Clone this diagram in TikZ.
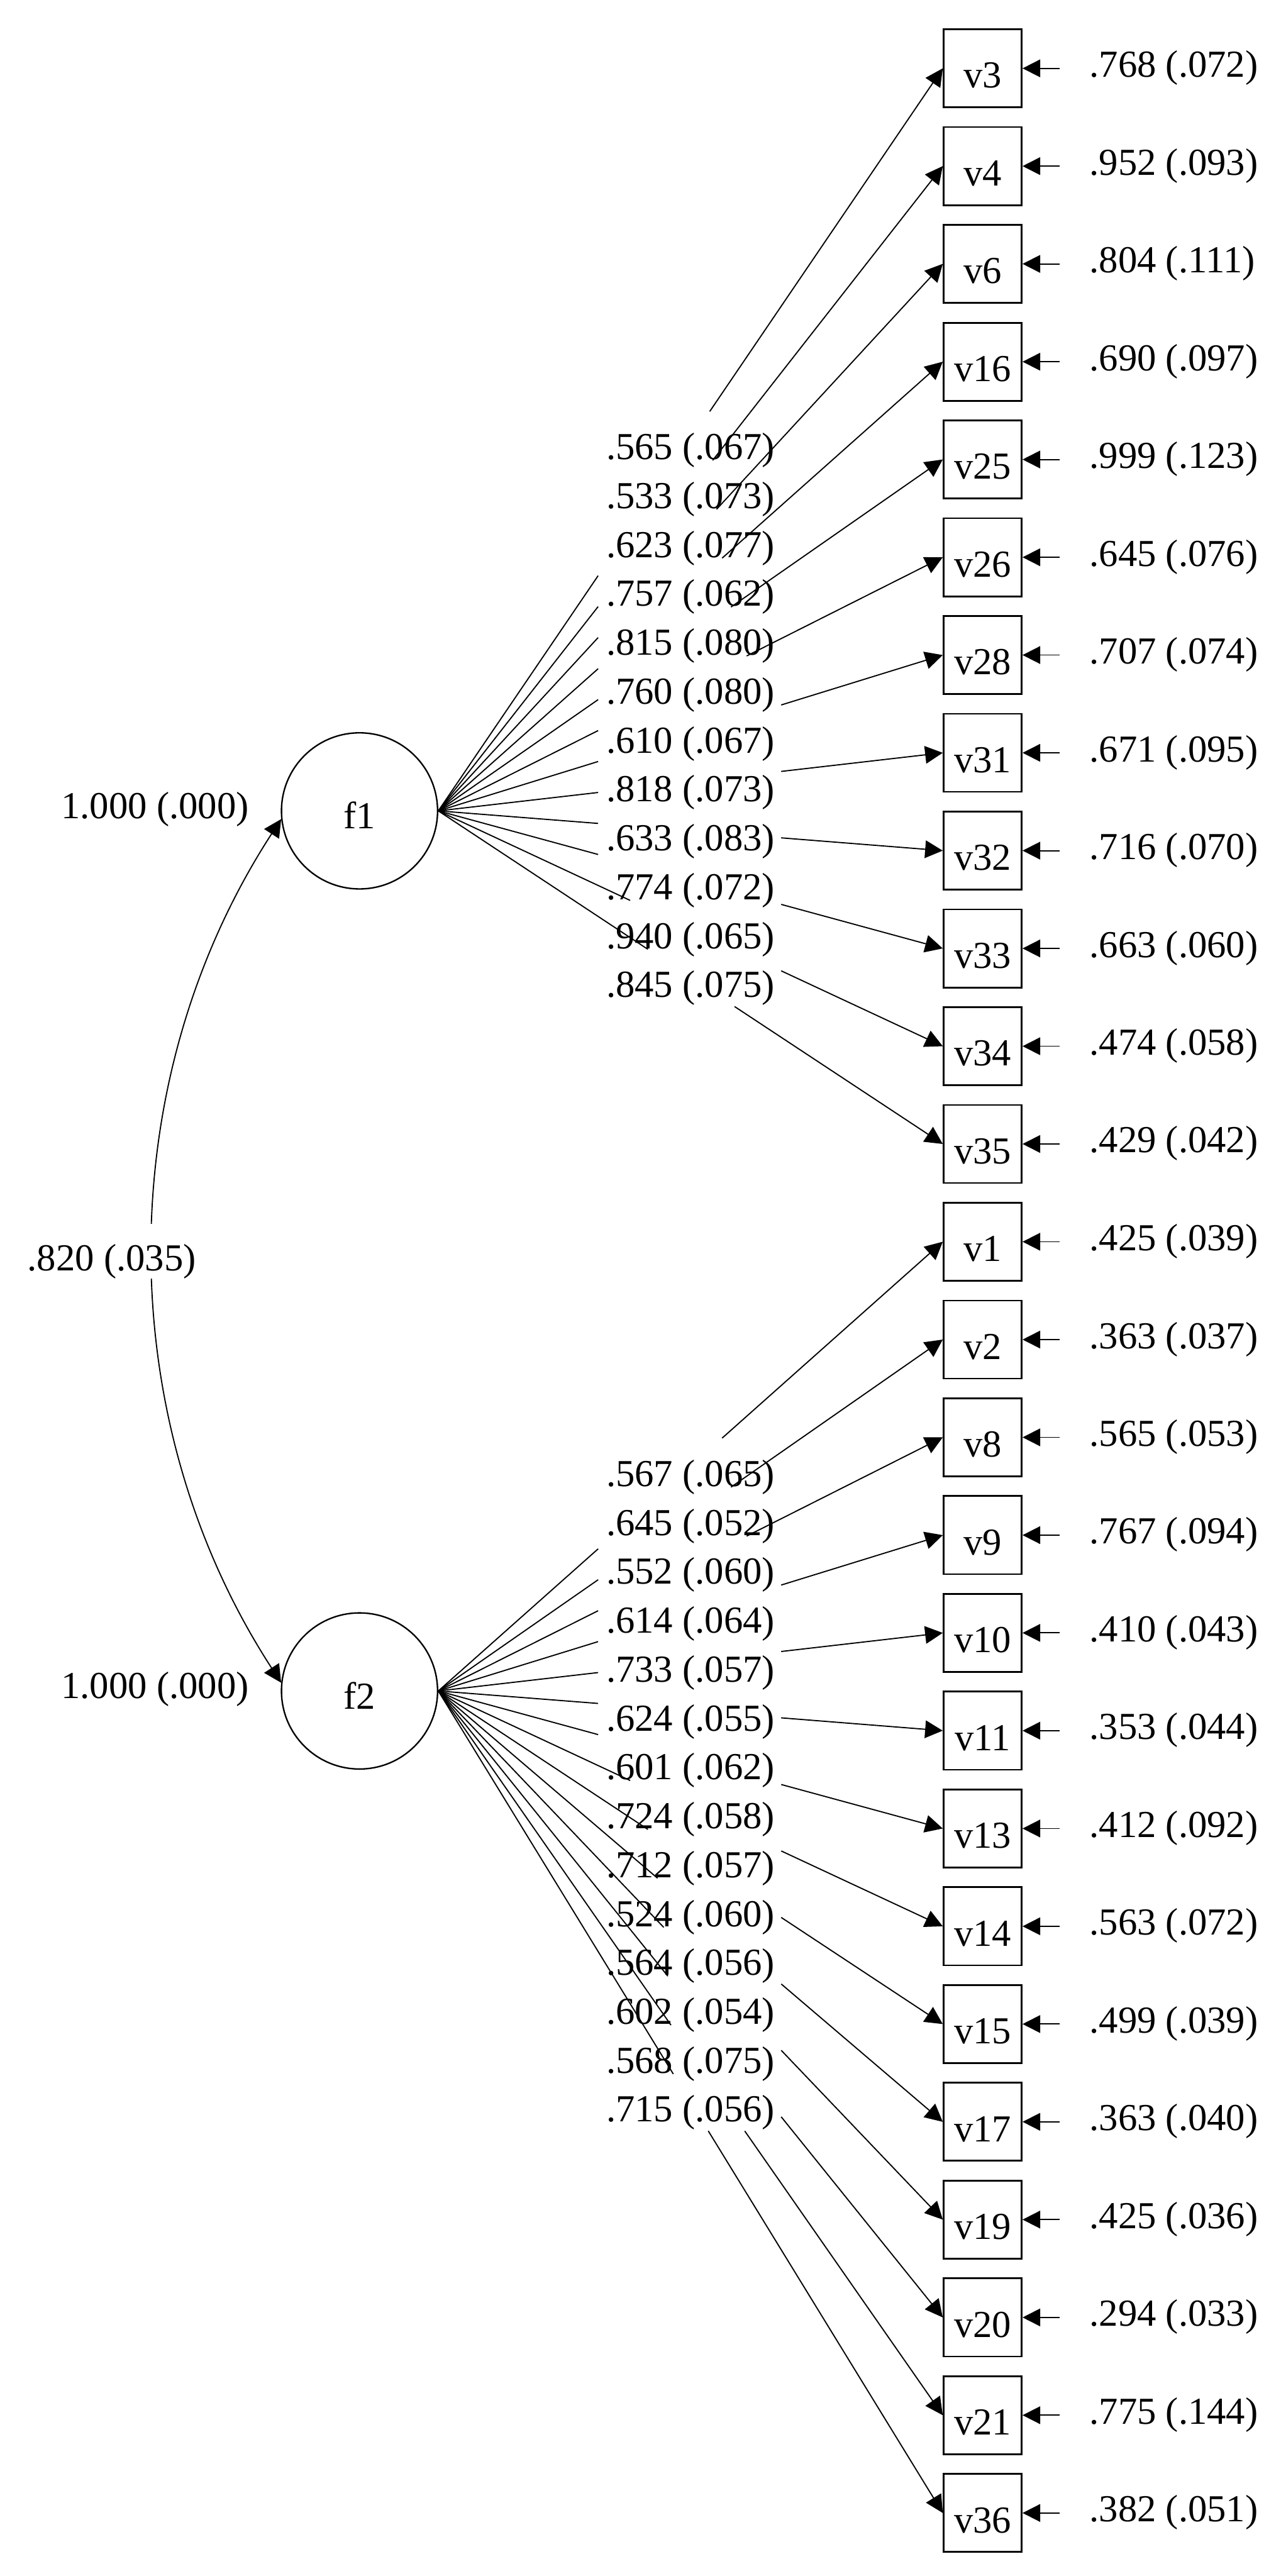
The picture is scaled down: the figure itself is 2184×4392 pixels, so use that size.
\documentclass[tikz,border=0pt]{standalone}
\usepackage{fontspec}
\setmainfont{Liberation Serif}
\usetikzlibrary{arrows.meta,calc}
\tikzset{
  lab/.style={inner sep=0pt, font=\fontsize{18.5}{22}\selectfont},
  obs/.style={draw, line width=0.03cm, minimum size=1.33cm, inner sep=0pt, text height=0.67cm, text depth=0cm, font=\fontsize{18.5}{22}\selectfont},
  lat/.style={draw, circle, line width=0.025cm, minimum size=2.66cm, inner sep=0pt, text height=0.61cm, text depth=0cm, font=\fontsize{18.5}{22}\selectfont},
  ln/.style={line width=0.02cm},
  arr/.style={line width=0.02cm, -{Triangle[length=0.3cm,width=0.3cm]}},
  dbl/.style={line width=0.02cm, {Triangle[length=0.3cm,width=0.3cm]}-{Triangle[length=0.3cm,width=0.3cm]}},
}
\newcommand{\indic}[3]{%
  \node[obs] (#1) at (1675.5,-#2) {#1};
  \coordinate (e#1) at (1807,-#2);
  \node[lab, anchor=base west] (r#1) at (1857,-#2-15) {#3};
  \draw[arr] (e#1) -- (#1.east);
}
% #1 factor, #2 box, #3 label, #4 edge where the factor part stops,
% #5 edge where the box part starts, #6 lowest edge of the label column (px)
\newcommand{\loading}[6]{%
  \coordinate (m#2) at ($(#1.east)!0.5!(#2.west)$);
  \node[lab, anchor=base] (l#2) at ([yshift=-0.34cm]m#2) {#3};
  \coordinate (L1#2) at ([xshift=-1.575cm]m#2);
  \coordinate (L2#2) at ([xshift=-1.575cm,yshift=-3cm]m#2);
  \coordinate (R1#2) at ([xshift=1.545cm]m#2);
  \coordinate (R2#2) at ([xshift=1.545cm,yshift=-3cm]m#2);
  \coordinate (T1#2) at ([yshift=0.48cm]m#2);
  \coordinate (T2#2) at ([xshift=1cm,yshift=0.48cm]m#2);
  \coordinate (B1#2) at (1000,-#6);
  \coordinate (B2#2) at (1400,-#6);
  \draw[ln] (#1.east) -- (intersection of #1.east--#2.west and #41#2--#42#2);
  \draw[arr] (intersection of #1.east--#2.west and #51#2--#52#2) -- (#2.west);
}
\begin{document}
\begin{tikzpicture}[x=0.01cm,y=0.01cm]
\useasboundingbox (0,0) rectangle (2184,-4392);
\node[lat] (f1) at (613,-1382.5) {f1};
\node[lat] (f2) at (613,-2883) {f2};
\indic{v3}{116.5}{.768 (.072)}
\indic{v4}{283.2}{.952 (.093)}
\indic{v6}{449.9}{.804 (.111)}
\indic{v16}{616.7}{.690 (.097)}
\indic{v25}{783.4}{.999 (.123)}
\indic{v26}{950.1}{.645 (.076)}
\indic{v28}{1116.8}{.707 (.074)}
\indic{v31}{1283.5}{.671 (.095)}
\indic{v32}{1450.3}{.716 (.070)}
\indic{v33}{1617.0}{.663 (.060)}
\indic{v34}{1783.7}{.474 (.058)}
\indic{v35}{1950.4}{.429 (.042)}
\indic{v1}{2117.1}{.425 (.039)}
\indic{v2}{2283.9}{.363 (.037)}
\indic{v8}{2450.6}{.565 (.053)}
\indic{v9}{2617.3}{.767 (.094)}
\indic{v10}{2784.0}{.410 (.043)}
\indic{v11}{2950.7}{.353 (.044)}
\indic{v13}{3117.5}{.412 (.092)}
\indic{v14}{3284.2}{.563 (.072)}
\indic{v15}{3450.9}{.499 (.039)}
\indic{v17}{3617.6}{.363 (.040)}
\indic{v19}{3784.3}{.425 (.036)}
\indic{v20}{3951.1}{.294 (.033)}
\indic{v21}{4117.8}{.775 (.144)}
\indic{v36}{4284.5}{.382 (.051)}
\loading{f1}{v3}{.565 (.067)}{L}{T}{1716}
\loading{f1}{v4}{.533 (.073)}{L}{T}{1716}
\loading{f1}{v6}{.623 (.077)}{L}{T}{1716}
\loading{f1}{v16}{.757 (.062)}{L}{T}{1716}
\loading{f1}{v25}{.815 (.080)}{L}{T}{1716}
\loading{f1}{v26}{.760 (.080)}{L}{T}{1716}
\loading{f1}{v28}{.610 (.067)}{L}{R}{1716}
\loading{f1}{v31}{.818 (.073)}{L}{R}{1716}
\loading{f1}{v32}{.633 (.083)}{L}{R}{1716}
\loading{f1}{v33}{.774 (.072)}{L}{R}{1716}
\loading{f1}{v34}{.940 (.065)}{T}{R}{1716}
\loading{f1}{v35}{.845 (.075)}{T}{B}{1716}
\loading{f2}{v1}{.567 (.065)}{L}{T}{3633}
\loading{f2}{v2}{.645 (.052)}{L}{T}{3633}
\loading{f2}{v8}{.552 (.060)}{L}{T}{3633}
\loading{f2}{v9}{.614 (.064)}{L}{R}{3633}
\loading{f2}{v10}{.733 (.057)}{L}{R}{3633}
\loading{f2}{v11}{.624 (.055)}{L}{R}{3633}
\loading{f2}{v13}{.601 (.062)}{L}{R}{3633}
\loading{f2}{v14}{.724 (.058)}{T}{R}{3633}
\loading{f2}{v15}{.712 (.057)}{T}{R}{3633}
\loading{f2}{v17}{.524 (.060)}{T}{R}{3633}
\loading{f2}{v19}{.564 (.056)}{T}{R}{3633}
\loading{f2}{v20}{.602 (.054)}{T}{R}{3633}
\loading{f2}{v21}{.568 (.075)}{T}{B}{3633}
\loading{f2}{v36}{.715 (.056)}{T}{B}{3633}
\node[lab, anchor=base east] (vf1) at (425,-1395) {1.000 (.000)};
\node[lab, anchor=base east] (vf2) at (425,-2895.5) {1.000 (.000)};
\draw[dbl] (f1.186) to[out=237,in=123,looseness=0.93] (f2.174);
\node[lab, anchor=base, fill=white, text height=0.8cm, text depth=0.13cm, inner xsep=0.08cm] (cov) at (190.5,-2167) {.820 (.035)};
\end{tikzpicture}
\end{document}
